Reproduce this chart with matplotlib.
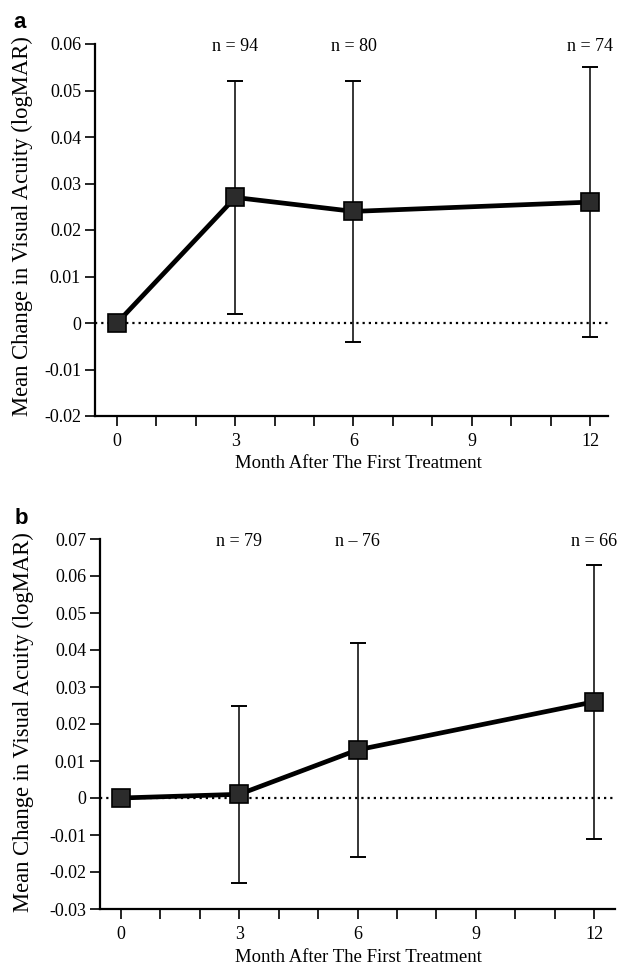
import matplotlib
matplotlib.use("Agg")
import matplotlib.pyplot as plt

plt.rcParams['font.family'] = ['Liberation Serif', 'DejaVu Serif']
plt.rcParams['axes.unicode_minus'] = False

# ---- data ----
months = [0, 3, 6, 12]
err_months = [3, 6, 12]

mean_a = [0.0, 0.027, 0.024, 0.026]
err_a = [0.025, 0.028, 0.029]
n_a = ["n = 94", "n = 80", "n = 74"]

mean_b = [0.0, 0.001, 0.013, 0.026]
err_b = [0.024, 0.029, 0.037]
n_b = ["n = 79", "n \u2013 76", "n = 66"]

xticks = list(range(0, 13))
xticklabels = ["0", "", "", "3", "", "", "6", "", "", "9", "", "", "12"]

yticks_a = [-0.02, -0.01, 0, 0.01, 0.02, 0.03, 0.04, 0.05, 0.06]
ylabels_a = ["-0.02", "-0.01", "0", "0.01", "0.02", "0.03", "0.04", "0.05", "0.06"]
yticks_b = [-0.03, -0.02, -0.01, 0, 0.01, 0.02, 0.03, 0.04, 0.05, 0.06, 0.07]
ylabels_b = ["-0.03", "-0.02", "-0.01", "0", "0.01", "0.02", "0.03", "0.04", "0.05",
             "0.06", "0.07"]

xlabel = "Month After The First Treatment"
ylabel = "Mean Change in Visual Acuity (logMAR)"

W, H = 622, 974
fig = plt.figure(figsize=(W / 100, H / 100), dpi=100)
fig.patch.set_facecolor("white")

FS = 13


def px_axes(left, right, top, bottom):
    return fig.add_axes([left / W, (H - bottom) / H, (right - left) / W, (bottom - top) / H])


def draw(ax, mean, err, nlab, yticks, ylabels, xlim, ylim, ny):
    ax.set_xlim(*xlim)
    ax.set_ylim(*ylim)
    for s in ("top", "right"):
        ax.spines[s].set_visible(False)
    for s in ("left", "bottom"):
        ax.spines[s].set_linewidth(1.6)
    ax.axhline(0, color="black", lw=1.6, ls=(0, (1, 1.8)), zorder=1)
    em = [m for x, m in zip(months, mean) if x in err_months]
    ax.errorbar(err_months, em, yerr=err, fmt="none", ecolor="black",
                elinewidth=1.1, capsize=5.5, capthick=1.4, zorder=2)
    ax.plot(months, mean, color="black", lw=3.4, marker="s", ms=12.5,
            mfc="#2b2b2b", mec="black", mew=1.2, zorder=3)
    ax.set_xticks(xticks)
    ax.set_xticklabels(xticklabels, fontsize=FS)
    ax.set_yticks(yticks)
    ax.set_yticklabels(ylabels, fontsize=FS)
    ax.tick_params(axis="both", direction="out", length=7, width=1.2, color="black")
    ax.tick_params(axis="x", pad=5)
    ax.tick_params(axis="y", pad=3)
    for x, t in zip(err_months, nlab):
        ax.text(x, ny, t, ha="center", va="center", fontsize=FS, clip_on=False)


ax_a = px_axes(95, 608, 44, 416)
draw(ax_a, mean_a, err_a, n_a, yticks_a, ylabels_a, (-0.558, 12.457), (-0.02, 0.06), 0.0594)

ax_b = px_axes(100, 615, 539, 909)
draw(ax_b, mean_b, err_b, n_b, yticks_b, ylabels_b, (-0.533, 12.533), (-0.03, 0.07), 0.0692)

# axis titles
fig.text(358 / W, 1 - 464 / H, xlabel, ha="center", va="center", fontsize=FS + 0.5)
fig.text(358 / W, 1 - 957 / H, xlabel, ha="center", va="center", fontsize=FS + 0.5)
fig.text(22 / W, 1 - 226 / H, ylabel, ha="center", va="center", rotation=90, fontsize=16.3)
fig.text(23 / W, 1 - 722 / H, ylabel, ha="center", va="center", rotation=90, fontsize=16.3)

# panel letters
fig.text(20 / W, 1 - 22 / H, "a", ha="center", va="center", fontsize=16,
         fontweight="bold", family=["Liberation Sans", "DejaVu Sans"])
fig.text(21 / W, 1 - 518 / H, "b", ha="center", va="center", fontsize=16,
         fontweight="bold", family=["Liberation Sans", "DejaVu Sans"])

fig.savefig("out.png", dpi=100, facecolor="white")
